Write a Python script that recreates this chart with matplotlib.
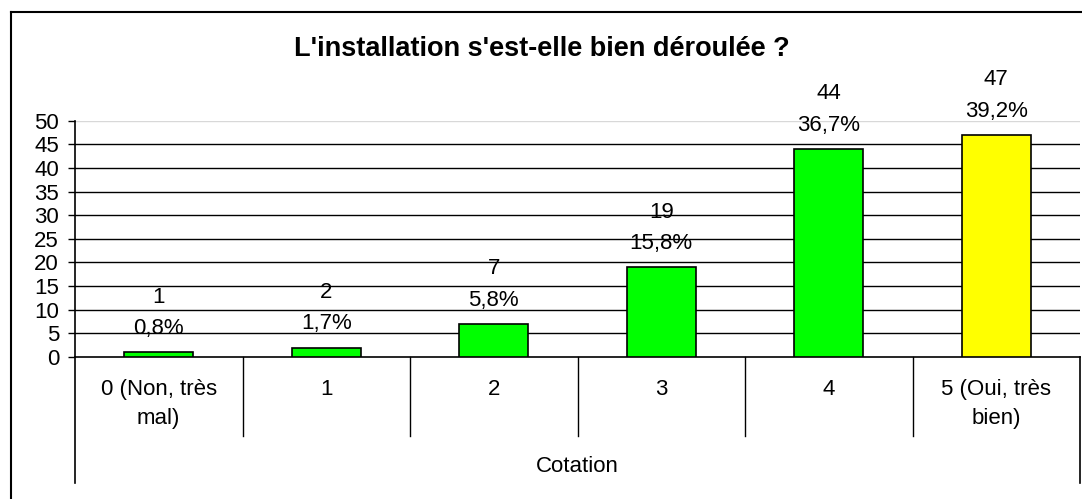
import matplotlib.pyplot as plt
from matplotlib.lines import Line2D
from matplotlib.transforms import blended_transform_factory

plt.rcParams["font.family"] = ["Liberation Sans", "DejaVu Sans"]

# %% data
categories = ["0 (Non, très\nmal)", "1", "2", "3", "4", "5 (Oui, très\nbien)"]
counts = [1, 2, 7, 19, 44, 47]
percents = ["0,8%", "1,7%", "5,8%", "15,8%", "36,7%", "39,2%"]
bar_colors = ["#00FF00", "#00FF00", "#00FF00", "#00FF00", "#00FF00", "#FFFF00"]
title = "L'installation s'est-elle bien déroulée ?"
xlabel = "Cotation"

# %% layout in pixels
W, H = 1082, 499
ax_left, ax_right = 75, 1080
ax_top, ax_bottom = 120.7, 357
fig = plt.figure(figsize=(W / 100, H / 100), dpi=100)
ax = fig.add_axes(
    [ax_left / W, (H - ax_bottom) / H, (ax_right - ax_left) / W, (ax_bottom - ax_top) / H]
)

x = list(range(len(categories)))
ax.bar(x, counts, width=0.41, color=bar_colors, edgecolor="black", linewidth=1.2, zorder=3)

ax.set_xlim(-0.5, len(categories) - 0.5)
ax.set_ylim(0, 50)
ax.set_yticks(range(0, 51, 5))
ax.tick_params(axis="y", direction="out", length=5, width=1, labelsize=16, pad=6.5)
ax.set_xticks([])
for y in range(5, 50, 5):
    ax.axhline(y, color="black", linewidth=1, zorder=1)
ax.axhline(50, color="#d8d8d8", linewidth=1, zorder=1)
for s in ["top", "right"]:
    ax.spines[s].set_visible(False)
ax.spines["left"].set_linewidth(1.2)
ax.spines["bottom"].set_linewidth(1.2)

# value labels
for xi, c, p in zip(x, counts, percents):
    ax.annotate(
        f"{c}\n{p}",
        (xi, c),
        xytext=(0, 9.5),
        textcoords="offset points",
        ha="center",
        va="bottom",
        fontsize=16,
        linespacing=1.65,
    )

# category table under the axis
tr = blended_transform_factory(ax.transData, fig.transFigure)
def fy(py):
    return (H - py) / H

for i in range(1, len(categories)):
    ax.add_line(Line2D([i - 0.5, i - 0.5], [fy(357), fy(436)], transform=tr,
                       color="black", linewidth=1, clip_on=False))
for xe in [-0.5, len(categories) - 0.5]:
    ax.add_line(Line2D([xe, xe], [fy(357), fy(483)], transform=tr,
                       color="black", linewidth=1.2, clip_on=False))
for xi, lab in zip(x, categories):
    ax.text(xi, fy(379), lab, transform=tr, ha="center", va="top",
            fontsize=16, linespacing=1.5)
ax.text(2.5, fy(467), xlabel, transform=tr, ha="center", va="center", fontsize=16)

# title and outer frame
fig.text(542 / W, fy(49), title, ha="center", va="center", fontsize=19.5, fontweight="bold")
fig.add_artist(Line2D([11 / W, 11 / W], [fy(12), 0], transform=fig.transFigure,
                      color="black", linewidth=1.5))
fig.add_artist(Line2D([11 / W, 1], [fy(12), fy(12)], transform=fig.transFigure,
                      color="black", linewidth=1.5))

plt.savefig("out.png", dpi=100)
